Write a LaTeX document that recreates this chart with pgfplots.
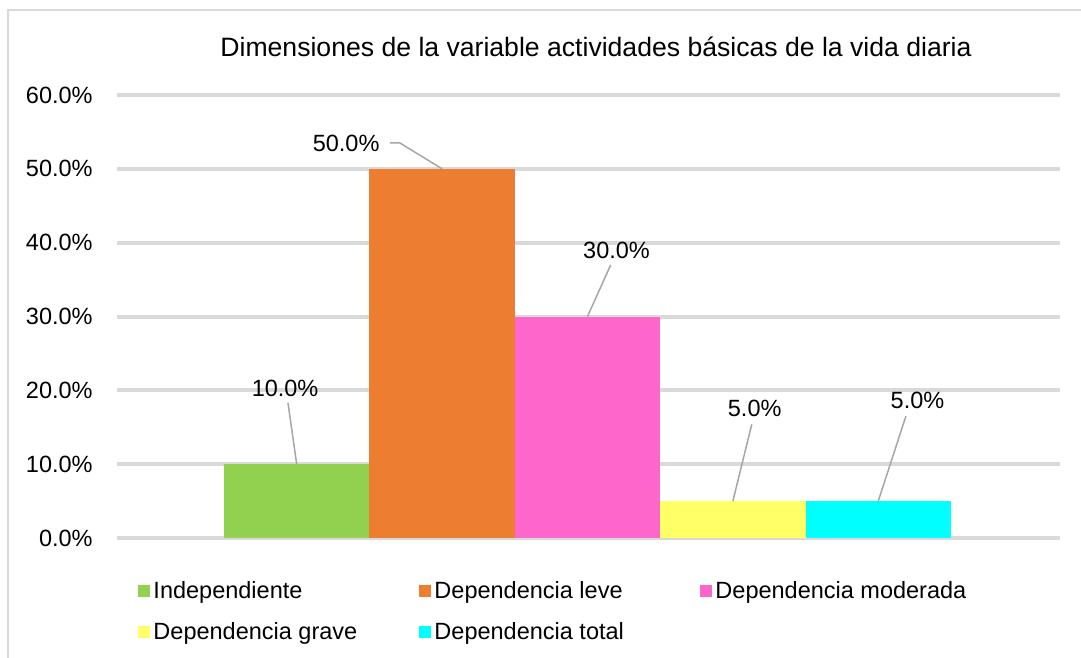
\documentclass[border=0pt]{standalone}
\usepackage{fontspec}
\setmainfont{Liberation Sans}
\usepackage{pgfplots}
\pgfplotsset{compat=1.18}
\definecolor{cInd}{HTML}{92D050}
\definecolor{cLeve}{HTML}{ED7D31}
\definecolor{cMod}{HTML}{FF66CC}
\definecolor{cGrave}{HTML}{FFFF66}
\definecolor{cTotal}{HTML}{00FFFF}
\definecolor{gridc}{HTML}{D9D9D9}
\definecolor{leader}{HTML}{A6A6A6}
\newcommand{\lab}{\fontsize{11.75}{14}\selectfont}
\begin{document}
\begin{tikzpicture}
\useasboundingbox (0,0) rectangle (540.5pt,329pt);
\draw[gridc, line width=1pt] (4pt,-10pt) -- (4pt,324pt) -- (560pt,324pt);
\node[font=\fontsize{13.3}{16}\selectfont] at (298pt,305.5pt)
  {Dimensiones de la variable actividades básicas de la vida diaria};
\begin{axis}[
  at={(58.5pt,60pt)}, anchor=south west,
  scale only axis, width=471.5pt, height=221.5pt,
  xmin=-0.236, xmax=6.25, ymin=0, ymax=60,
  ytick={0,10,...,60}, xtick=\empty,
  ymajorgrids, major grid style={gridc, line width=2pt},
  axis line style={draw=none}, tick style={draw=none},
  /pgf/number format/assume math mode=true,
  yticklabel={\pgfmathprintnumber[fixed,fixed zerofill,precision=1]{\tick}\%},
  yticklabel style={font=\lab, anchor=east, inner sep=0pt, xshift=-12pt},
  ybar, bar width=1, bar shift=0pt,
  legend columns=3, legend cell align=left,
  legend image code/.code={\fill[#1] (0pt,-3pt) rectangle (6pt,3pt);},
  legend style={draw=none, fill=none, at={(0.016,-0.081)}, anchor=north west,
    font=\lab, nodes={inner sep=1.5pt}, row sep=7.5pt},
]
\addplot[fill=cInd, draw=none] coordinates {(1,10)};
\addlegendentry{\makebox[131.5pt][l]{Independiente}}
\addplot[fill=cLeve, draw=none] coordinates {(2,50)};
\addlegendentry{\makebox[131.5pt][l]{Dependencia leve}}
\addplot[fill=cMod, draw=none] coordinates {(3,30)};
\addlegendentry{Dependencia moderada}
\addplot[fill=cGrave, draw=none] coordinates {(4,5)};
\addlegendentry{\makebox[131.5pt][l]{Dependencia grave}}
\addplot[fill=cTotal, draw=none] coordinates {(5,5)};
\addlegendentry{\makebox[131.5pt][l]{Dependencia total}}
% data labels with leader lines
\draw[leader, line width=0.75pt] (1,10) -- (0.94,18.3);
\node[font=\lab] at (0.92,20.3) {10.0\%};
\draw[leader, line width=0.75pt] (2,50) -- (1.71,53.5) -- (1.64,53.5);
\node[font=\lab] at (1.34,53.5) {50.0\%};
\draw[leader, line width=0.75pt] (3,30) -- (3.16,37.0);
\node[font=\lab] at (3.20,39.0) {30.0\%};
\draw[leader, line width=0.75pt] (4,5) -- (4.13,15.4);
\node[font=\lab] at (4.15,17.6) {5.0\%};
\draw[leader, line width=0.75pt] (5,5) -- (5.19,16.5);
\node[font=\lab] at (5.27,18.6) {5.0\%};
\end{axis}
\end{tikzpicture}
\end{document}
